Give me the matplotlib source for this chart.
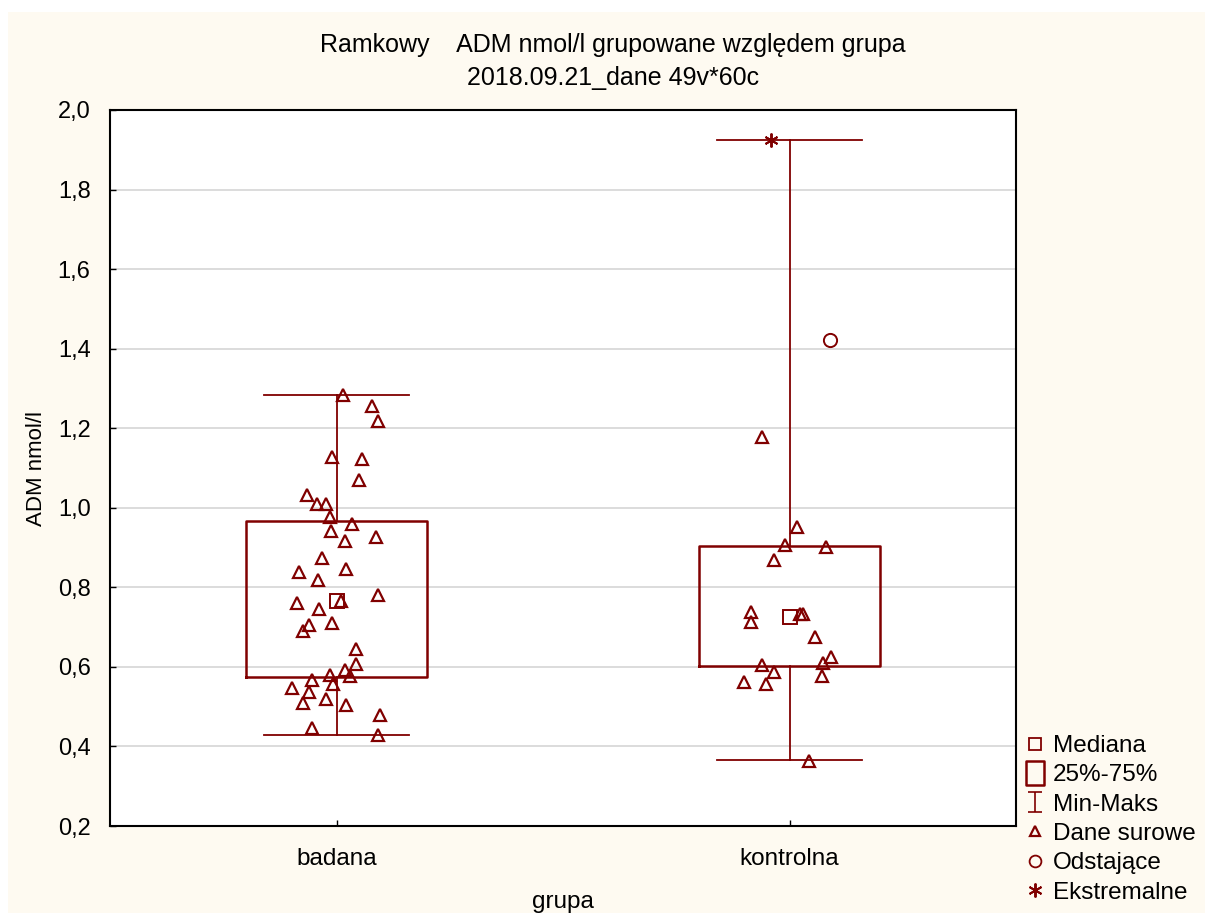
import matplotlib

matplotlib.use("Agg")

import matplotlib.pyplot as plt
from matplotlib.lines import Line2D
from matplotlib.patches import Rectangle
from matplotlib.path import Path
from matplotlib.ticker import FuncFormatter

RED = "#800000"
CREAM = "#FEFAF1"

groups = ["badana", "kontrolna"]

# summary stats
q1 = [0.575, 0.601]
q3 = [0.967, 0.904]
medians = [0.766, 0.725]
mins = [0.429, 0.365]
maxs = [1.284, 1.924]

# raw data (triangles) + horizontal jitter of each point
badana_y = [1.283, 1.256, 1.218, 1.128, 1.123, 1.070, 1.032, 1.009, 1.009, 0.977,
            0.959, 0.942, 0.926, 0.916, 0.874, 0.846, 0.839, 0.818, 0.781, 0.761,
            0.766, 0.746, 0.705, 0.710, 0.690, 0.645, 0.607, 0.592, 0.580, 0.577,
            0.567, 0.557, 0.547, 0.537, 0.519, 0.509, 0.504, 0.479, 0.446, 0.429]
badana_jit = [0.015, 0.079, 0.091, -0.011, 0.057, 0.049, -0.066, -0.042, -0.024, -0.015,
              0.035, -0.013, 0.088, 0.018, -0.031, 0.020, -0.082, -0.040, 0.091, -0.088,
              0.011, -0.038, -0.060, -0.011, -0.075, 0.044, 0.042, 0.018, -0.015, 0.029,
              -0.053, -0.007, -0.099, -0.060, -0.024, -0.073, 0.020, 0.097, -0.055, 0.091]

kontrolna_y = [1.178, 0.952, 0.906, 0.901, 0.869, 0.738, 0.713, 0.733, 0.733, 0.675,
               0.625, 0.610, 0.605, 0.587, 0.577, 0.562, 0.557, 0.363]
kontrolna_jit = [-0.061, 0.017, -0.010, 0.080, -0.034, -0.085, -0.085, 0.023, 0.030, 0.056,
                 0.092, 0.074, -0.061, -0.034, 0.072, -0.100, -0.052, 0.043]

outlier_y = [1.422]
outlier_jit = [0.089]
extreme_y = [1.924]
extreme_jit = [-0.041]

yticks = [0.2, 0.4, 0.6, 0.8, 1.0, 1.2, 1.4, 1.6, 1.8, 2.0]

plt.rcParams["font.family"] = ["Liberation Sans", "DejaVu Sans"]

fig = plt.figure(figsize=(12.05, 9.13), dpi=100, facecolor="white")
fig.patches.append(Rectangle((8 / 1205, 0), 1, 1 - 12 / 913, transform=fig.transFigure,
                             facecolor=CREAM, edgecolor="none", zorder=-10))

ax = fig.add_axes([110 / 1205, 87 / 913, 906 / 1205, 716 / 913])
ax.set_facecolor("white")

stats = [
    {"med": medians[i], "q1": q1[i], "q3": q3[i], "whislo": mins[i], "whishi": maxs[i], "fliers": []}
    for i in range(len(groups))
]
ax.bxp(stats, positions=[1, 2], widths=0.4, capwidths=0.32, showfliers=False,
       boxprops=dict(color=RED, linewidth=1.8),
       whiskerprops=dict(color=RED, linewidth=1.3),
       capprops=dict(color=RED, linewidth=1.3),
       medianprops=dict(linewidth=0))

raw = [(badana_y, badana_jit), (kontrolna_y, kontrolna_jit)]
for i, (ys, jit) in enumerate(raw):
    ax.plot([i + 1 + j for j in jit], ys, linestyle="none", marker="^", markersize=8,
            markerfacecolor="none", markeredgecolor=RED, markeredgewidth=1.6, zorder=3)

ax.plot([1, 2], medians, linestyle="none", marker="s", markersize=9.5,
        markerfacecolor="none", markeredgecolor=RED, markeredgewidth=1.4, zorder=4)
ax.plot([2 + j for j in outlier_jit], outlier_y, linestyle="none", marker="o", markersize=9.5,
        markerfacecolor="none", markeredgecolor=RED, markeredgewidth=1.4, zorder=4)
ax.plot([2 + j for j in extreme_jit], extreme_y, linestyle="none", marker=(6, 2, 0), markersize=10,
        markeredgecolor=RED, color=RED, markeredgewidth=1.4, zorder=4)

ax.set_xlim(0.5, 2.5)
ax.set_ylim(0.2, 2.0)
ax.set_xticks([1, 2])
ax.set_xticklabels(groups, fontsize=17.5)
ax.set_yticks(yticks)
ax.yaxis.set_major_formatter(FuncFormatter(lambda v, p: f"{v:.1f}".replace(".", ",")))
ax.tick_params(axis="y", direction="in", length=4, width=1, labelsize=17, pad=14)
ax.tick_params(axis="x", direction="in", length=4, width=1, labelsize=17.5, pad=16)
ax.grid(axis="y", color="#D9D9D9", linewidth=1.3)
ax.set_axisbelow(True)
for sp in ax.spines.values():
    sp.set_linewidth(1.5)
    sp.set_color("black")

ax.set_xlabel("grupa", fontsize=17.5, labelpad=15)
ax.set_ylabel("ADM nmol/l", fontsize=16, labelpad=8)

fig.text(613 / 1205, 1 - 45 / 913, "Ramkowy    ADM nmol/l grupowane względem grupa",
         ha="center", va="center", fontsize=18)
fig.text(613 / 1205, 1 - 78 / 913, "2018.09.21_dane 49v*60c",
         ha="center", va="center", fontsize=18)

ibeam = Path([(-0.7, 1), (0.7, 1), (0, 1), (0, -1), (-0.7, -1), (0.7, -1)],
             [Path.MOVETO, Path.LINETO, Path.MOVETO, Path.LINETO, Path.MOVETO, Path.LINETO])
tall_box = Path([(-0.4, -0.5), (0.4, -0.5), (0.4, 0.5), (-0.4, 0.5), (-0.4, -0.5)],
                [Path.MOVETO, Path.LINETO, Path.LINETO, Path.LINETO, Path.CLOSEPOLY])

handles = [
    Line2D([], [], linestyle="none", marker="s", markersize=8, markerfacecolor="none",
           markeredgecolor=RED, markeredgewidth=1.3),
    Line2D([], [], linestyle="none", marker=tall_box, markersize=17, markerfacecolor="none",
           markeredgecolor=RED, markeredgewidth=1.8),
    Line2D([], [], linestyle="none", marker=ibeam, markersize=14, markeredgecolor=RED,
           markeredgewidth=1.2),
    Line2D([], [], linestyle="none", marker="^", markersize=7.5, markerfacecolor="none",
           markeredgecolor=RED, markeredgewidth=1.6),
    Line2D([], [], linestyle="none", marker="o", markersize=8.5, markerfacecolor="none",
           markeredgecolor=RED, markeredgewidth=1.3),
    Line2D([], [], linestyle="none", marker=(6, 2, 0), markersize=10, markeredgecolor=RED,
           markeredgewidth=1.4),
]
labels = ["Mediana", "25%-75%", "Min-Maks", "Dane surowe", "Odstające", "Ekstremalne"]
fig.legend(handles, labels, loc="upper left", bbox_to_anchor=(1008 / 1205, 1 - 718 / 913),
           frameon=False, fontsize=17.5, handlelength=0.8, handletextpad=0.36,
           labelspacing=0.3, borderpad=0.2)

fig.savefig("out.png", dpi=100, facecolor=fig.get_facecolor())
